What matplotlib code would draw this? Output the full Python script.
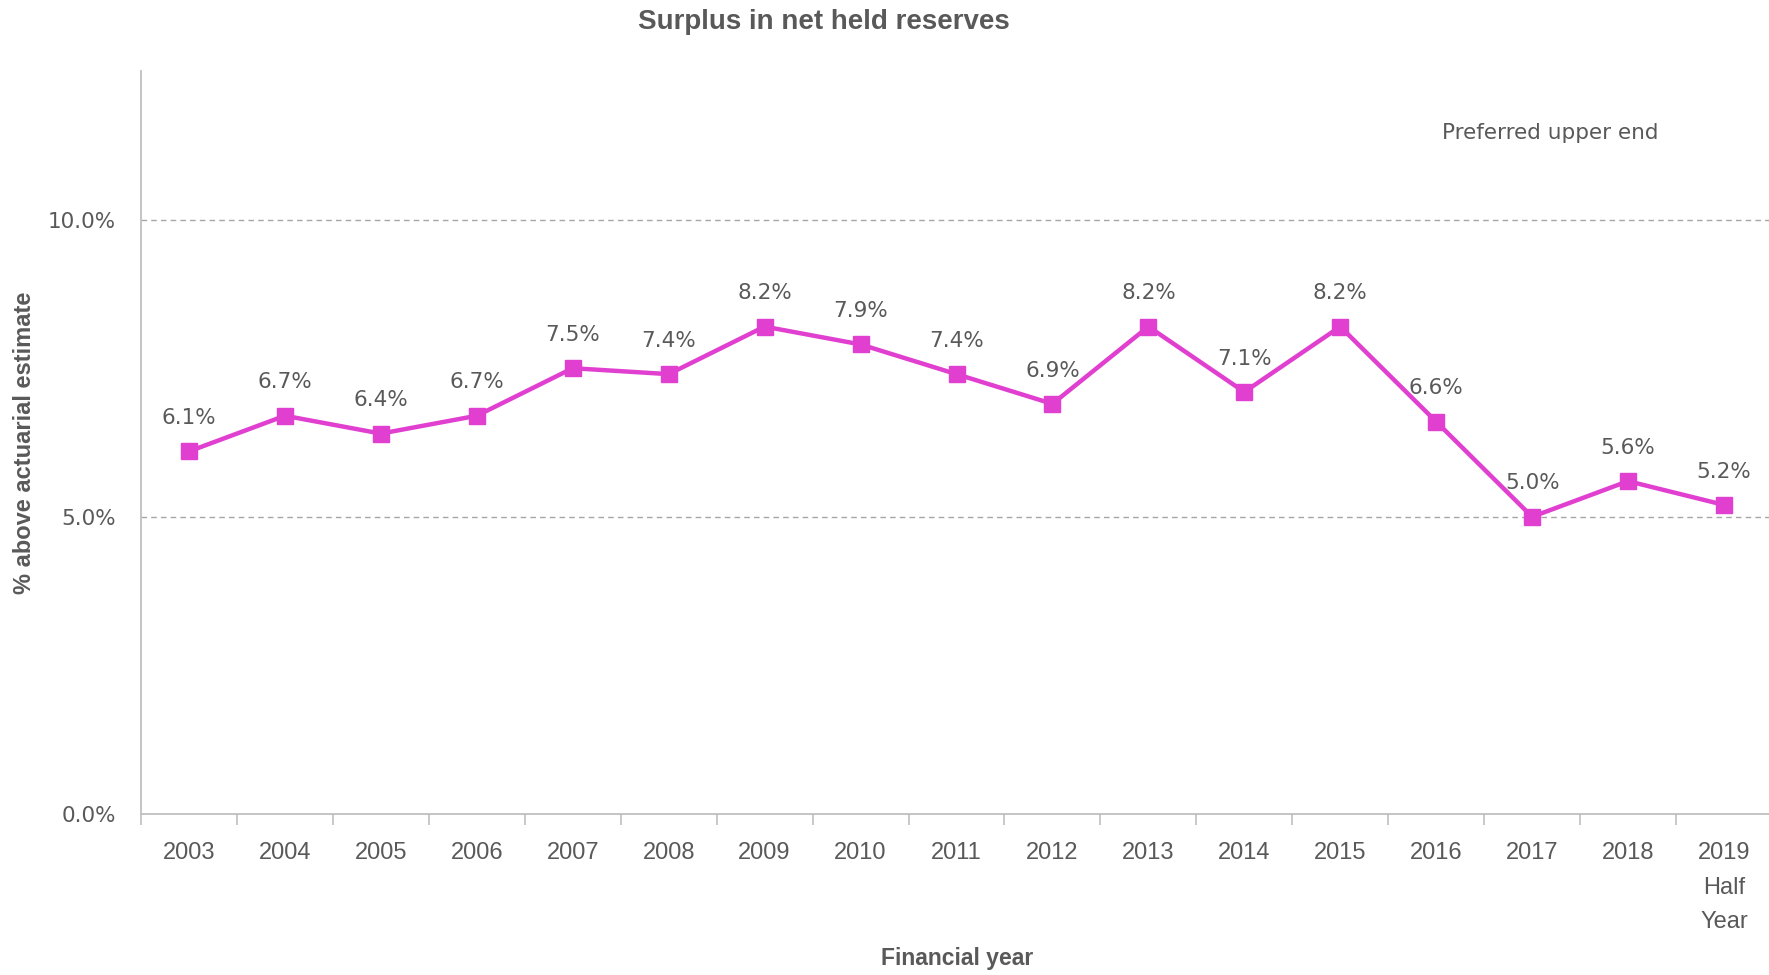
import matplotlib
matplotlib.use("Agg")
import matplotlib.pyplot as plt
from matplotlib.ticker import FixedLocator, PercentFormatter

years = ["2003", "2004", "2005", "2006", "2007", "2008", "2009", "2010", "2011",
         "2012", "2013", "2014", "2015", "2016", "2017", "2018", "2019\nHalf\nYear"]
surplus = [6.1, 6.7, 6.4, 6.7, 7.5, 7.4, 8.2, 7.9, 7.4, 6.9, 8.2, 7.1, 8.2, 6.6, 5.0, 5.6, 5.2]
y_ticks = [0, 5, 10]
grid_levels = [5, 10]
title = "Surplus in net held reserves"
xlabel = "Financial year"
ylabel = "% above actuarial estimate"
band_label = "Preferred upper end"

NARROW = ["Liberation Sans", "DejaVu Sans"]
TXT = "#595959"
LINE = "#E03FD0"
AXC = "#BFBFBF"

fig = plt.figure(figsize=(17.69, 9.75), dpi=100)
ax = fig.add_axes([141/1769, (975-814)/975, (1772-141)/1769, (814-71)/975])

x = list(range(len(years)))
ax.plot(x, surplus, color=LINE, lw=3.2, marker="s", markersize=11, zorder=3)
for xi, v in zip(x, surplus):
    ax.annotate(f"{v:.1f}%", (xi, v), xytext=(0, 24), textcoords="offset points",
                ha="center", va="center", fontsize=15.5, color=TXT, family="DejaVu Sans")

for g in grid_levels:
    ax.axhline(g, color="#A6A6A6", lw=1.0, ls=(0, (4, 3)), zorder=1)

ax.set_xlim(-0.5, len(years) - 0.5)
ax.set_ylim(0, 12.5)
ax.yaxis.set_major_locator(FixedLocator(y_ticks))
ax.yaxis.set_major_formatter(PercentFormatter(decimals=1))
ax.set_xticks(x)
ax.set_xticklabels(years, family=NARROW, fontsize=17, color=TXT, linespacing=1.75, va="top")
ax.set_xticks([i - 0.5 for i in range(len(years) + 1)], minor=True)
ax.tick_params(axis="x", which="major", length=0, pad=20)
ax.tick_params(axis="x", which="minor", length=8, color=AXC, width=1.2, direction="out")
ax.tick_params(axis="y", length=0, pad=18, labelsize=15.5, labelcolor=TXT)
for lab in ax.get_yticklabels():
    lab.set_family("DejaVu Sans")

for s in ["top", "right"]:
    ax.spines[s].set_visible(False)
for s in ["left", "bottom"]:
    ax.spines[s].set_color(AXC)
    ax.spines[s].set_linewidth(1.3)

ax.text(14.19, 11.46, band_label, ha="center", va="center", fontsize=15.5, color=TXT,
        family="DejaVu Sans")

fig.text(824/1769, 1 - 22/975, title, ha="center", va="center", fontsize=20,
         fontweight="bold", color=TXT, family=NARROW)
fig.text(957/1769, 1 - 959/975, xlabel, ha="center", va="center", fontsize=16.5,
         fontweight="bold", color=TXT, family=NARROW)
fig.text(25/1769, 1 - 443/975, ylabel, ha="center", va="center", rotation=90,
         fontsize=17, fontweight="bold", color=TXT, family=NARROW)

fig.savefig("out.png", dpi=100)
